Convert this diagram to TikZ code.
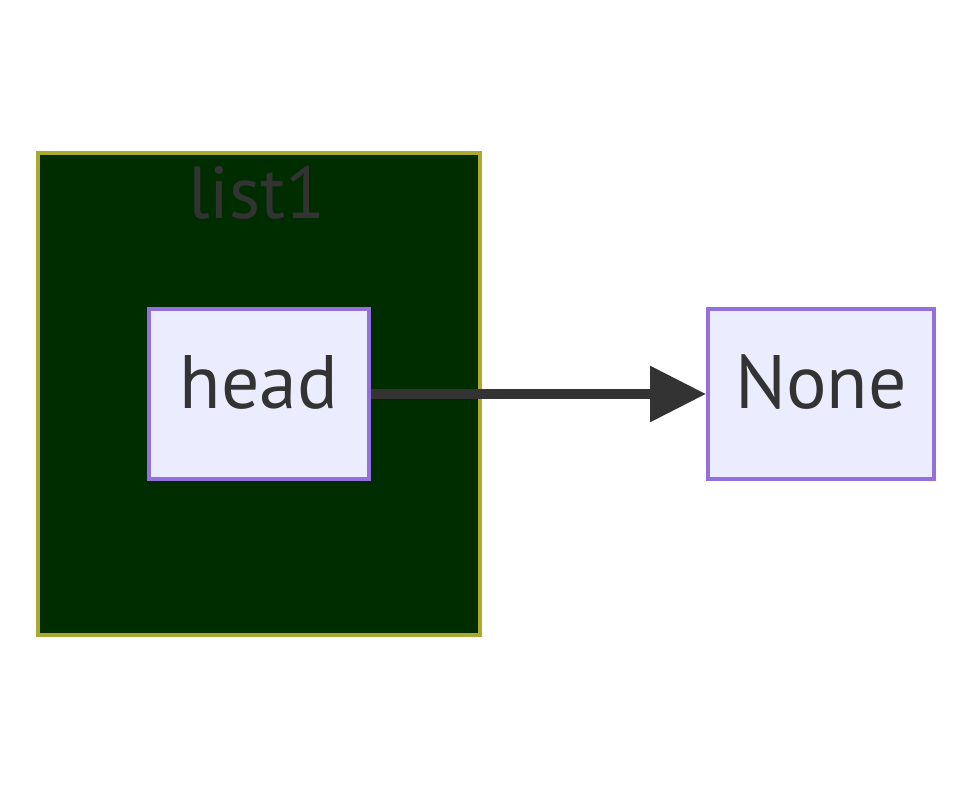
\documentclass[tikz,border=0pt]{standalone}
\usepackage{fontspec}
\setmainfont{PT Sans}
\usetikzlibrary{arrows.meta}
\definecolor{boxfill}{HTML}{ECECFF}
\definecolor{boxline}{HTML}{9370DB}
\definecolor{groupfill}{HTML}{002D00}
\definecolor{groupline}{HTML}{AAAA33}
\definecolor{textgray}{HTML}{333333}
\begin{document}
\begin{tikzpicture}[x=1bp, y=-1bp,
    item/.style={draw=boxline, fill=boxfill, line width=4bp, inner sep=0pt,
        minimum height=170bp, text height=53bp, text depth=25bp,
        text=textgray, font=\fontsize{76}{90}\selectfont}]
    \useasboundingbox (0,0) rectangle (972,789);

    % Draw subgraph
    \draw[groupline, fill=groupfill, line width=4bp] (38,153) rectangle (480,635);
    \node[text=textgray, font=\fontsize{74}{88}\selectfont, anchor=base] (list1) at (257,218) {list1};

    % Draw nodes
    \node[item, minimum width=220bp] (head) at (259,394) {head};
    \node[item, minimum width=226bp] (none) at (821,394) {None};

    % Draw directed edge
    \draw[textgray, line width=9.5bp, -{Triangle[length=56bp, width=54bp]}] (head) -- (none); % head to None
\end{tikzpicture}
\end{document}
